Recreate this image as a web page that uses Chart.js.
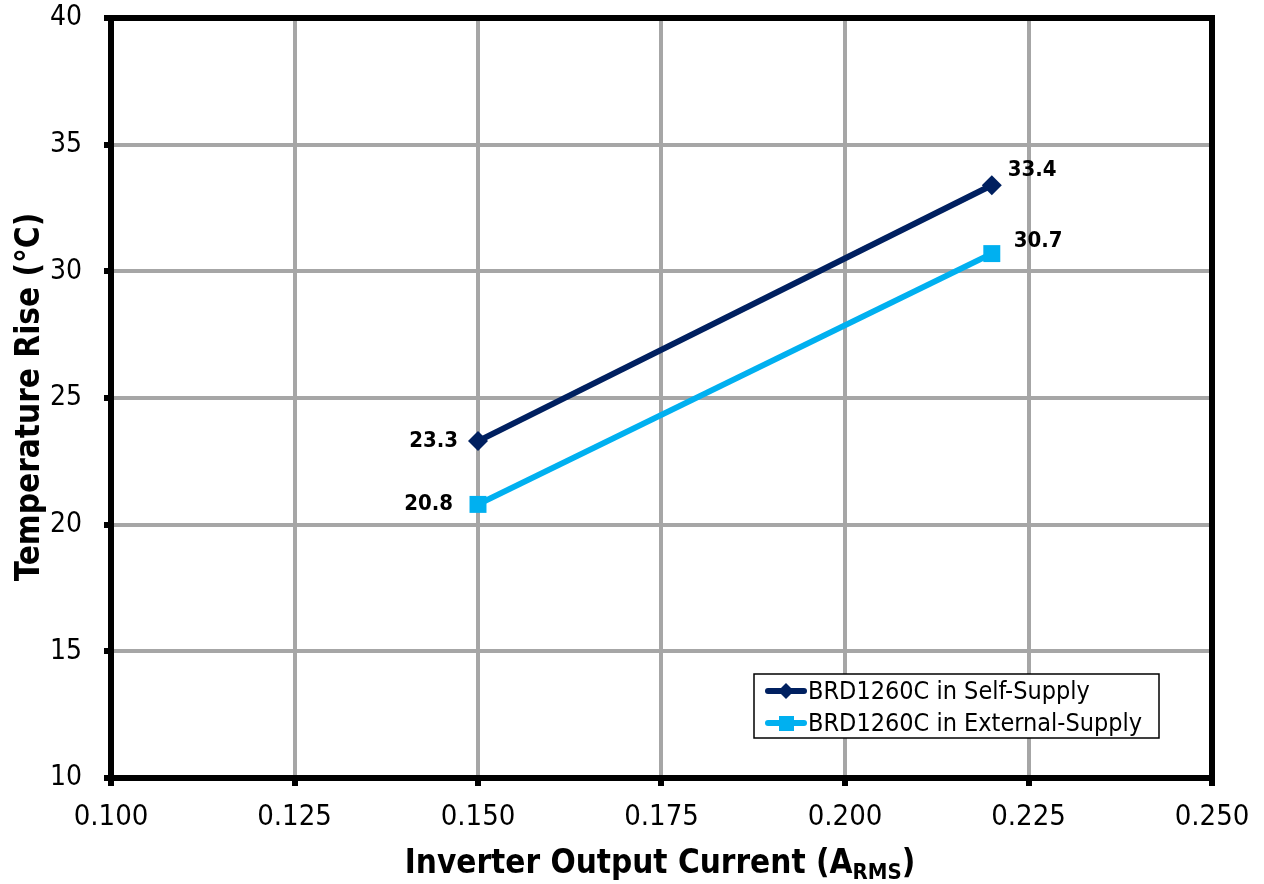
<!DOCTYPE html>
<html><head><meta charset="utf-8">
<script src="https://cdn.jsdelivr.net/npm/chart.js@4/dist/chart.umd.min.js"></script>
<style>html,body{margin:0;padding:0;background:#fff}canvas{display:block}</style>
</head><body>
<canvas id="c" width="1264" height="884"></canvas>
<script>
// ---- data ----
const xCurrent = [0.150, 0.220];
const selfSupply = [23.3, 33.4];
const externalSupply = [20.8, 30.7];
const seriesNames = ['BRD1260C in Self-Supply', 'BRD1260C in External-Supply'];
const xTicks = [0.100, 0.125, 0.150, 0.175, 0.200, 0.225, 0.250];
const yTicks = [10, 15, 20, 25, 30, 35, 40];
const xTitleParts = ['Inverter Output Current (A', 'RMS', ')'];
const yTitle = 'Temperature Rise (°C)';

// ---- style ----
const FONT = '"DejaVu Sans Condensed", "DejaVu Sans", sans-serif';
const NAVY = '#002060';
const CYAN = '#00B0F0';
// label placement per series/point: [dx, dy, align]
const labelPlace = [
  [[-20, 0, 'right'], [16, -15, 'left']],
  [[-25, 0, 'right'], [22, -12, 'left']]
];

const toXY = (xs, ys) => xs.map((x, i) => ({x: x, y: ys[i]}));

const framePlugin = {
  id: 'frame',
  afterDatasetsDraw(chart) {
    const ctx = chart.ctx;
    ctx.save();
    ctx.font = 'bold 22px ' + FONT;
    ctx.fillStyle = '#000';
    ctx.textBaseline = 'middle';
    chart.data.datasets.forEach((ds, di) => {
      const meta = chart.getDatasetMeta(di);
      meta.data.forEach((pt, pi) => {
        const p = labelPlace[di][pi];
        ctx.textAlign = p[2];
        ctx.fillText(ds.data[pi].y.toFixed(1), pt.x + p[0], pt.y + p[1]);
      });
    });
    ctx.restore();
  },
  afterDraw(chart) {
    const ctx = chart.ctx, a = chart.chartArea;
    ctx.save();
    ctx.strokeStyle = '#000';
    ctx.lineWidth = 6;
    ctx.strokeRect(a.left, a.top, a.right - a.left, a.bottom - a.top);

    // legend
    const lx = 754, ly = 674, lw = 405, lh = 64;
    ctx.fillStyle = '#fff';
    ctx.fillRect(lx, ly, lw, lh);
    ctx.lineWidth = 1.5;
    ctx.strokeStyle = '#000';
    ctx.strokeRect(lx, ly, lw, lh);
    const rows = [691, 723];
    chart.data.datasets.forEach((ds, di) => {
      const y = rows[di];
      ctx.strokeStyle = ds.borderColor;
      ctx.lineWidth = 6;
      ctx.lineCap = 'round';
      ctx.beginPath();
      ctx.moveTo(768, y);
      ctx.lineTo(804, y);
      ctx.stroke();
      ctx.fillStyle = ds.backgroundColor;
      if (di === 0) {
        ctx.beginPath();
        ctx.moveTo(786, y - 8); ctx.lineTo(794, y); ctx.lineTo(786, y + 8); ctx.lineTo(778, y);
        ctx.closePath(); ctx.fill();
      } else {
        ctx.fillRect(779, y - 7, 15, 15);
      }
      ctx.fillStyle = '#000';
      ctx.font = '25px ' + FONT;
      ctx.textAlign = 'left';
      ctx.textBaseline = 'middle';
      ctx.fillText(ds.label, 808, y + 1);
    });

    // y title
    ctx.save();
    ctx.translate(30, 397);
    ctx.rotate(-Math.PI / 2);
    ctx.font = 'bold 33px ' + FONT;
    ctx.fillStyle = '#000';
    ctx.textAlign = 'center';
    ctx.textBaseline = 'middle';
    ctx.fillText(yTitle, 0, 0);
    ctx.restore();

    // x title with subscript
    ctx.fillStyle = '#000';
    ctx.textBaseline = 'alphabetic';
    ctx.textAlign = 'left';
    const big = 'bold 33px ' + FONT, small = 'bold 22px ' + FONT;
    ctx.font = big; const w1 = ctx.measureText(xTitleParts[0]).width, w3 = ctx.measureText(xTitleParts[2]).width;
    ctx.font = small; const w2 = ctx.measureText(xTitleParts[1]).width;
    let x = 660 - (w1 + w2 + w3) / 2;
    const base = 873;
    ctx.font = big; ctx.fillText(xTitleParts[0], x, base); x += w1;
    ctx.font = small; ctx.fillText(xTitleParts[1], x, base + 6); x += w2;
    ctx.font = big; ctx.fillText(xTitleParts[2], x, base);
    ctx.restore();
  }
};

new Chart(document.getElementById('c'), {
  type: 'scatter',
  data: {
    datasets: [
      {
        label: seriesNames[0],
        data: toXY(xCurrent, selfSupply),
        showLine: true,
        borderColor: NAVY,
        backgroundColor: NAVY,
        borderWidth: 6,
        pointStyle: 'rectRot',
        pointRadius: 10,
        pointBorderWidth: 0,
        pointHoverRadius: 10
      },
      {
        label: seriesNames[1],
        data: toXY(xCurrent, externalSupply),
        showLine: true,
        borderColor: CYAN,
        backgroundColor: CYAN,
        borderWidth: 6,
        pointStyle: 'rect',
        pointRadius: 12,
        pointBorderWidth: 0,
        pointHoverRadius: 12
      }
    ]
  },
  options: {
    responsive: false,
    animation: false,
    events: [],
    layout: {padding: {top: 18, right: 52, left: 0, bottom: 0}},
    plugins: {legend: {display: false}, tooltip: {enabled: false}},
    scales: {
      x: {
        type: 'linear',
        min: xTicks[0],
        max: xTicks[xTicks.length - 1],
        afterBuildTicks: s => { s.ticks = xTicks.map(v => ({value: v})); },
        afterFit: s => { s.height = 106; s.paddingLeft = 0; s.paddingRight = 0; },
        border: {display: false},
        grid: {color: '#A6A6A6', lineWidth: 4, tickColor: '#000', tickWidth: 6, tickLength: 8},
        ticks: {
          color: '#000',
          font: {family: FONT, size: 29},
          padding: 14,
          maxRotation: 0,
          callback: v => Number(v).toFixed(3)
        }
      },
      y: {
        type: 'linear',
        min: yTicks[0],
        max: yTicks[yTicks.length - 1],
        afterBuildTicks: s => { s.ticks = yTicks.map(v => ({value: v})); },
        afterFit: s => { s.width = 111; s.paddingTop = 0; s.paddingBottom = 0; },
        border: {display: false},
        grid: {color: '#A6A6A6', lineWidth: 4, tickColor: '#000', tickWidth: 6, tickLength: 7},
        ticks: {
          color: '#000',
          font: {family: FONT, size: 28},
          padding: 22,
          callback: v => String(v)
        }
      }
    }
  },
  plugins: [framePlugin]
});
</script>
</body></html>
